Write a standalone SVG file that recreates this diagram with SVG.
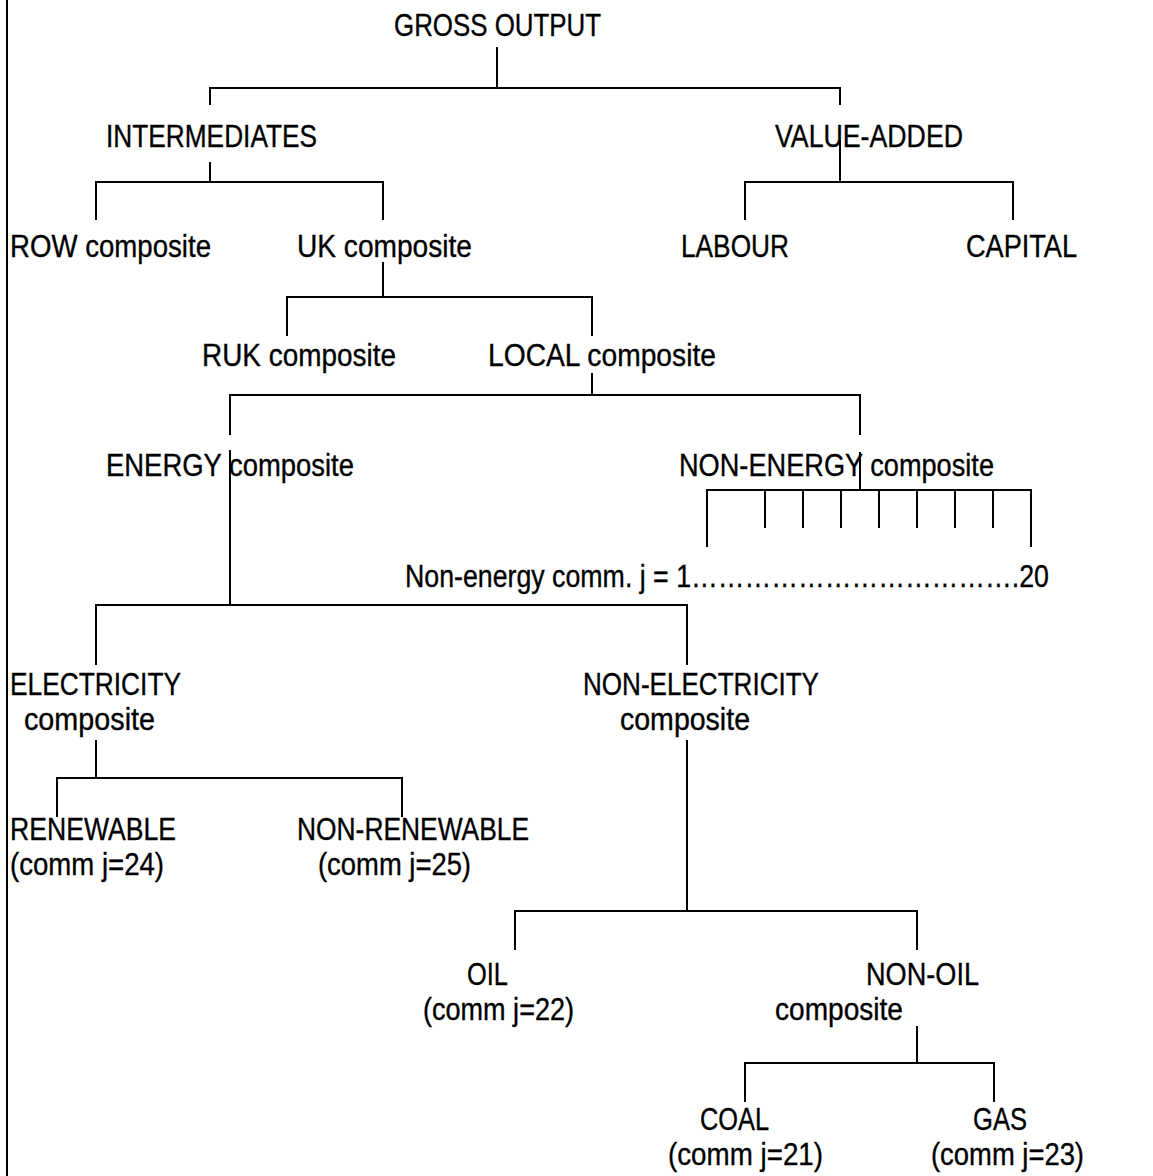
<svg xmlns="http://www.w3.org/2000/svg" width="1153" height="1176" viewBox="0 0 1153 1176">
<style>
.t{font-family:"Liberation Sans Narrow","Liberation Sans",Arial,sans-serif;font-size:31px;fill:#000;stroke:#000;stroke-width:0.35}
.c line{stroke:#000;stroke-width:2;fill:none}
</style>
<rect x="0" y="0" width="1153" height="1176" fill="#fff"/>
<g id="frame"><line x1="7" y1="0" x2="7" y2="1176" stroke="#000" stroke-width="2"/></g>
<g id="connectors" class="c">
<line x1="497" y1="47" x2="497" y2="88"/>
<line x1="209" y1="88" x2="841" y2="88"/>
<line x1="210" y1="88" x2="210" y2="105"/>
<line x1="840" y1="88" x2="840" y2="105"/>
<line x1="840" y1="140" x2="840" y2="182"/>
<line x1="744" y1="182" x2="1014" y2="182"/>
<line x1="745" y1="182" x2="745" y2="220"/>
<line x1="1013" y1="182" x2="1013" y2="220"/>
<line x1="210" y1="162" x2="210" y2="182"/>
<line x1="95" y1="182" x2="384" y2="182"/>
<line x1="96" y1="182" x2="96" y2="220"/>
<line x1="383" y1="182" x2="383" y2="220"/>
<line x1="383" y1="262" x2="383" y2="297"/>
<line x1="286" y1="297" x2="593" y2="297"/>
<line x1="287" y1="297" x2="287" y2="336"/>
<line x1="592" y1="297" x2="592" y2="336"/>
<line x1="592" y1="373" x2="592" y2="395"/>
<line x1="229" y1="395" x2="861" y2="395"/>
<line x1="230" y1="395" x2="230" y2="435"/>
<line x1="860" y1="395" x2="860" y2="435"/>
<line x1="230" y1="450" x2="230" y2="605"/>
<line x1="95" y1="605" x2="688" y2="605"/>
<line x1="96" y1="605" x2="96" y2="665"/>
<line x1="687" y1="605" x2="687" y2="665"/>
<line x1="860" y1="452" x2="860" y2="490"/>
<line x1="706" y1="490" x2="1032" y2="490"/>
<line x1="707" y1="490" x2="707" y2="547"/>
<line x1="1031" y1="490" x2="1031" y2="547"/>
<line x1="765" y1="490" x2="765" y2="528"/>
<line x1="803" y1="490" x2="803" y2="528"/>
<line x1="841" y1="490" x2="841" y2="528"/>
<line x1="879" y1="490" x2="879" y2="528"/>
<line x1="917" y1="490" x2="917" y2="528"/>
<line x1="955" y1="490" x2="955" y2="528"/>
<line x1="993" y1="490" x2="993" y2="528"/>
<line x1="96" y1="740" x2="96" y2="778"/>
<line x1="56" y1="778" x2="403" y2="778"/>
<line x1="57" y1="778" x2="57" y2="817"/>
<line x1="402" y1="778" x2="402" y2="817"/>
<line x1="687" y1="740" x2="687" y2="911"/>
<line x1="514" y1="911" x2="918" y2="911"/>
<line x1="515" y1="911" x2="515" y2="950"/>
<line x1="917" y1="911" x2="917" y2="950"/>
<line x1="917" y1="1026" x2="917" y2="1063"/>
<line x1="744" y1="1063" x2="995" y2="1063"/>
<line x1="745" y1="1063" x2="745" y2="1102"/>
<line x1="994" y1="1063" x2="994" y2="1102"/>
</g>
<g id="gross-output"><text class="t" x="394" y="36" textLength="207" lengthAdjust="spacingAndGlyphs">GROSS OUTPUT</text></g>
<g id="intermediates"><text class="t" x="106" y="147" textLength="211" lengthAdjust="spacingAndGlyphs">INTERMEDIATES</text></g>
<g id="value-added"><text class="t" x="775" y="147" textLength="188" lengthAdjust="spacingAndGlyphs">VALUE-ADDED</text></g>
<g id="row-composite"><text class="t" x="10" y="257" textLength="201" lengthAdjust="spacingAndGlyphs">ROW composite</text></g>
<g id="uk-composite"><text class="t" x="297" y="257" textLength="175" lengthAdjust="spacingAndGlyphs">UK composite</text></g>
<g id="labour"><text class="t" x="681" y="257" textLength="108" lengthAdjust="spacingAndGlyphs">LABOUR</text></g>
<g id="capital"><text class="t" x="966" y="257" textLength="111" lengthAdjust="spacingAndGlyphs">CAPITAL</text></g>
<g id="ruk-composite"><text class="t" x="202" y="366" textLength="194" lengthAdjust="spacingAndGlyphs">RUK composite</text></g>
<g id="local-composite"><text class="t" x="488" y="366" textLength="228" lengthAdjust="spacingAndGlyphs">LOCAL composite</text></g>
<g id="energy-composite"><text class="t" x="106" y="476" textLength="248" lengthAdjust="spacingAndGlyphs">ENERGY composite</text></g>
<g id="non-energy-composite"><text class="t" x="679" y="476" textLength="315" lengthAdjust="spacingAndGlyphs">NON-ENERGY composite</text></g>
<g id="non-energy-comm"><text class="t" x="405" y="587" textLength="644" lengthAdjust="spacingAndGlyphs">Non-energy comm. j = 1……………………………….20</text></g>
<g id="electricity-composite">
<text class="t" x="10" y="695" textLength="171" lengthAdjust="spacingAndGlyphs">ELECTRICITY</text>
<text class="t" x="24" y="730" textLength="131" lengthAdjust="spacingAndGlyphs">composite</text>
</g>
<g id="non-electricity-composite">
<text class="t" x="583" y="695" textLength="236" lengthAdjust="spacingAndGlyphs">NON-ELECTRICITY</text>
<text class="t" x="620" y="730" textLength="130" lengthAdjust="spacingAndGlyphs">composite</text>
</g>
<g id="renewable">
<text class="t" x="10" y="840" textLength="166" lengthAdjust="spacingAndGlyphs">RENEWABLE</text>
<text class="t" x="10" y="875" textLength="154" lengthAdjust="spacingAndGlyphs">(comm j=24)</text>
</g>
<g id="non-renewable">
<text class="t" x="297" y="840" textLength="232" lengthAdjust="spacingAndGlyphs">NON-RENEWABLE</text>
<text class="t" x="318" y="875" textLength="153" lengthAdjust="spacingAndGlyphs">(comm j=25)</text>
</g>
<g id="oil">
<text class="t" x="467" y="985" textLength="41" lengthAdjust="spacingAndGlyphs">OIL</text>
<text class="t" x="423" y="1020" textLength="151" lengthAdjust="spacingAndGlyphs">(comm j=22)</text>
</g>
<g id="non-oil-composite">
<text class="t" x="866" y="985" textLength="113" lengthAdjust="spacingAndGlyphs">NON-OIL</text>
<text class="t" x="775" y="1020" textLength="128" lengthAdjust="spacingAndGlyphs">composite</text>
</g>
<g id="coal">
<text class="t" x="700" y="1130" textLength="69" lengthAdjust="spacingAndGlyphs">COAL</text>
<text class="t" x="668" y="1165" textLength="155" lengthAdjust="spacingAndGlyphs">(comm j=21)</text>
</g>
<g id="gas">
<text class="t" x="973" y="1130" textLength="54" lengthAdjust="spacingAndGlyphs">GAS</text>
<text class="t" x="931" y="1165" textLength="153" lengthAdjust="spacingAndGlyphs">(comm j=23)</text>
</g>
</svg>
